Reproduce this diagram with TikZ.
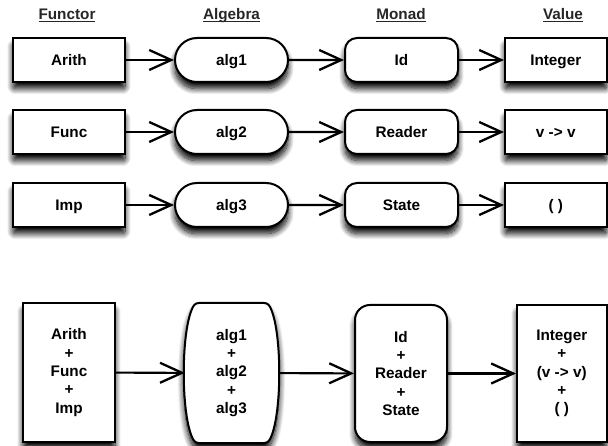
\documentclass[tikz,border=0pt]{standalone}
\usepackage{fontspec}
\setmainfont{Liberation Sans}
\usetikzlibrary{arrows.meta,shapes.misc,shadows.blur}
\newcommand{\hul}[1]{\setbox0\hbox{#1}\rlap{\rule[-2.8pt]{\wd0}{1.3pt}}\box0}
\begin{document}
\begin{tikzpicture}[x=1pt,y=-1pt,
  every node/.style={font=\bfseries\fontsize{15.3}{18.3}\selectfont},
  shad/.style={blur shadow={shadow xshift=0pt,shadow yshift=-6.5pt,shadow blur radius=6pt,shadow blur steps=12,shadow opacity=100,shadow blur extra rounding=2pt}},
  base/.style={draw, line width=2pt, fill=white, shad, inner sep=0pt},
  one/.style={text height=11pt, text depth=0pt},
  many/.style={align=center},
  sqbox/.style={base, rectangle},
  stad/.style={base, rounded rectangle},
  rbox/.style={base, rectangle, rounded corners=12pt},
  rboxb/.style={base, rectangle, rounded corners=15pt},
  ghost/.style={rectangle, inner sep=0pt, align=center},
  hdr/.style={anchor=base, text=black!85},
  arr/.style={line width=2.1pt, -{Straight Barb[length=22pt,width=20pt,line width=2.3pt]}},
  barrel/.style={line width=2pt, fill=white, shad, line join=round}
]
\useasboundingbox (0,0) rectangle (608,446);
\clip (0,0) rectangle (608,446);

% headers
\node[hdr] (h1) at (67,19.5) {\hul{Functor}};
\node[hdr] (h2) at (231.5,19.5) {\hul{Algebra}};
\node[hdr] (h3) at (401,19.5) {\hul{Monad}};
\node[hdr] (h4) at (563,19.5) {\hul{Value}};

% row 1
\node[sqbox, one, minimum width=112pt, minimum height=44pt] (f1) at (69,60) {Arith};
\node[stad, one, minimum width=113pt, minimum height=44pt] (a1) at (231.5,60) {alg1};
\node[rbox, one, minimum width=113pt, minimum height=44pt] (m1) at (401.5,60) {Id};
\node[sqbox, one, minimum width=101.5pt, minimum height=44pt] (v1) at (555.75,60) {Integer};
% row 2
\node[sqbox, one, minimum width=112pt, minimum height=44pt] (f2) at (69,132) {Func};
\node[stad, one, minimum width=113pt, minimum height=44pt] (a2) at (231.5,132) {alg2};
\node[rbox, one, minimum width=113pt, minimum height=44pt] (m2) at (401.5,132) {Reader};
\node[sqbox, one, minimum width=101.5pt, minimum height=44pt] (v2) at (555.75,132) {v -> v};
% row 3
\node[sqbox, one, minimum width=112pt, minimum height=44pt] (f3) at (69,205) {Imp};
\node[stad, one, minimum width=113pt, minimum height=44pt] (a3) at (231.5,205) {alg3};
\node[rbox, one, minimum width=113pt, minimum height=44pt] (m3) at (401.5,205) {State};
\node[sqbox, one, minimum width=101.5pt, minimum height=44pt] (v3) at (555.75,205) {( )};

\foreach \r in {1,2,3}{
  \draw[arr] (f\r) -- (a\r);
  \draw[arr] (a\r) -- (m\r);
  \draw[arr] (m\r) -- (v\r);
}

% bottom row
\node[sqbox, many, minimum width=92pt, minimum height=139pt] (fs) at (69,372.5) {Arith\\+\\Func\\+\\Imp};
\draw[barrel] (199,303) -- (264,303)
   .. controls (268,303) and (269.5,305.5) .. (271,309)
   .. controls (282,334) and (282,412) .. (271,437)
   .. controls (269.5,440.5) and (268,443) .. (264,443)
   -- (199,443)
   .. controls (195,443) and (193.5,440.5) .. (192,437)
   .. controls (181,412) and (181,334) .. (192,309)
   .. controls (193.5,305.5) and (195,303) .. cycle;
\node[ghost, minimum width=93pt, minimum height=140pt] (as) at (231.5,373) {alg1\\+\\alg2\\+\\alg3};
\node[rboxb, many, minimum width=92pt, minimum height=137pt] (ms) at (401,373.5) {Id\\+\\Reader\\+\\State};
\node[sqbox, many, minimum width=89.5pt, minimum height=137pt] (vs) at (561.75,373.5) {Integer\\+\\(v -> v)\\+\\( )};

\draw[arr] (fs) -- (as);
\draw[arr] (as) -- (ms);
\draw[arr] (ms) -- (vs);
\end{tikzpicture}
\end{document}
